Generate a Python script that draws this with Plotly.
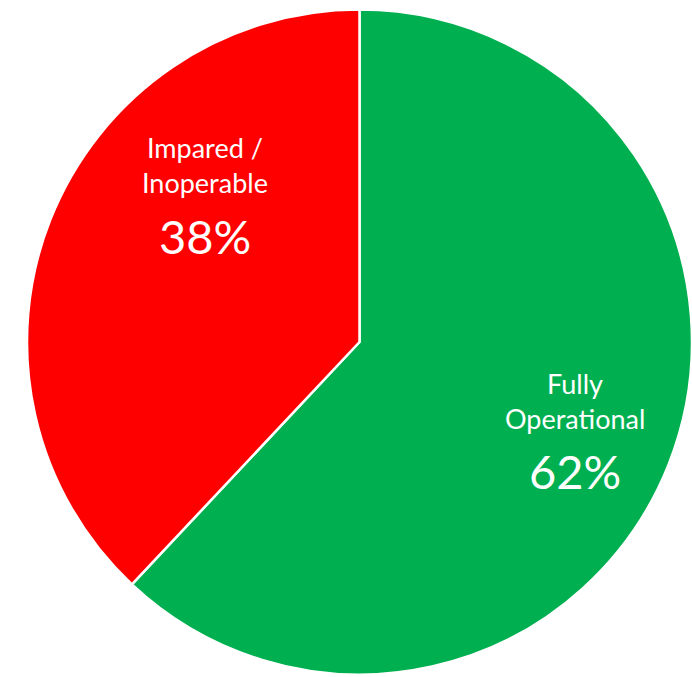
import plotly.graph_objects as go

labels = ["Fully<br>Operational", "Impared /<br>Inoperable"]
values = [62, 38]
colors = ["#00B050", "#FF0000"]

# label anchor positions in paper coordinates (x, y of first line)
label_pos = [(0.8309, 1 - 383 / 677), (0.2962, 1 - 148 / 677)]
line_gap = 35 / 677
pct_gap = 88 / 677

fig = go.Figure(go.Pie(
    labels=labels,
    values=values,
    sort=False,
    direction="clockwise",
    rotation=0,
    marker=dict(colors=colors, line=dict(color="white", width=2.5)),
    textinfo="none",
    domain=dict(x=[27/692, 1.0], y=[2.5/677, 667.5/677]),
    showlegend=False,
    hoverinfo="skip",
))

total = sum(values)
for lab, val, (x, y) in zip(labels, values, label_pos):
    lines = lab.split("<br>")
    for i, ln in enumerate(lines):
        fig.add_annotation(x=x, y=y - i * line_gap, xref="paper", yref="paper",
                           text=ln, showarrow=False, xanchor="center", yanchor="middle",
                           font=dict(family="Lato", size=27, color="white"))
    fig.add_annotation(x=x, y=y - pct_gap, xref="paper", yref="paper",
                       text=f"{round(100 * val / total)}%", showarrow=False,
                       xanchor="center", yanchor="middle",
                       font=dict(family="Lato", size=47, color="white"))

fig.update_layout(
    width=692, height=677,
    margin=dict(l=0, r=0, t=0, b=0),
    paper_bgcolor="white",
    plot_bgcolor="white",
)
fig.write_html("out.html")
